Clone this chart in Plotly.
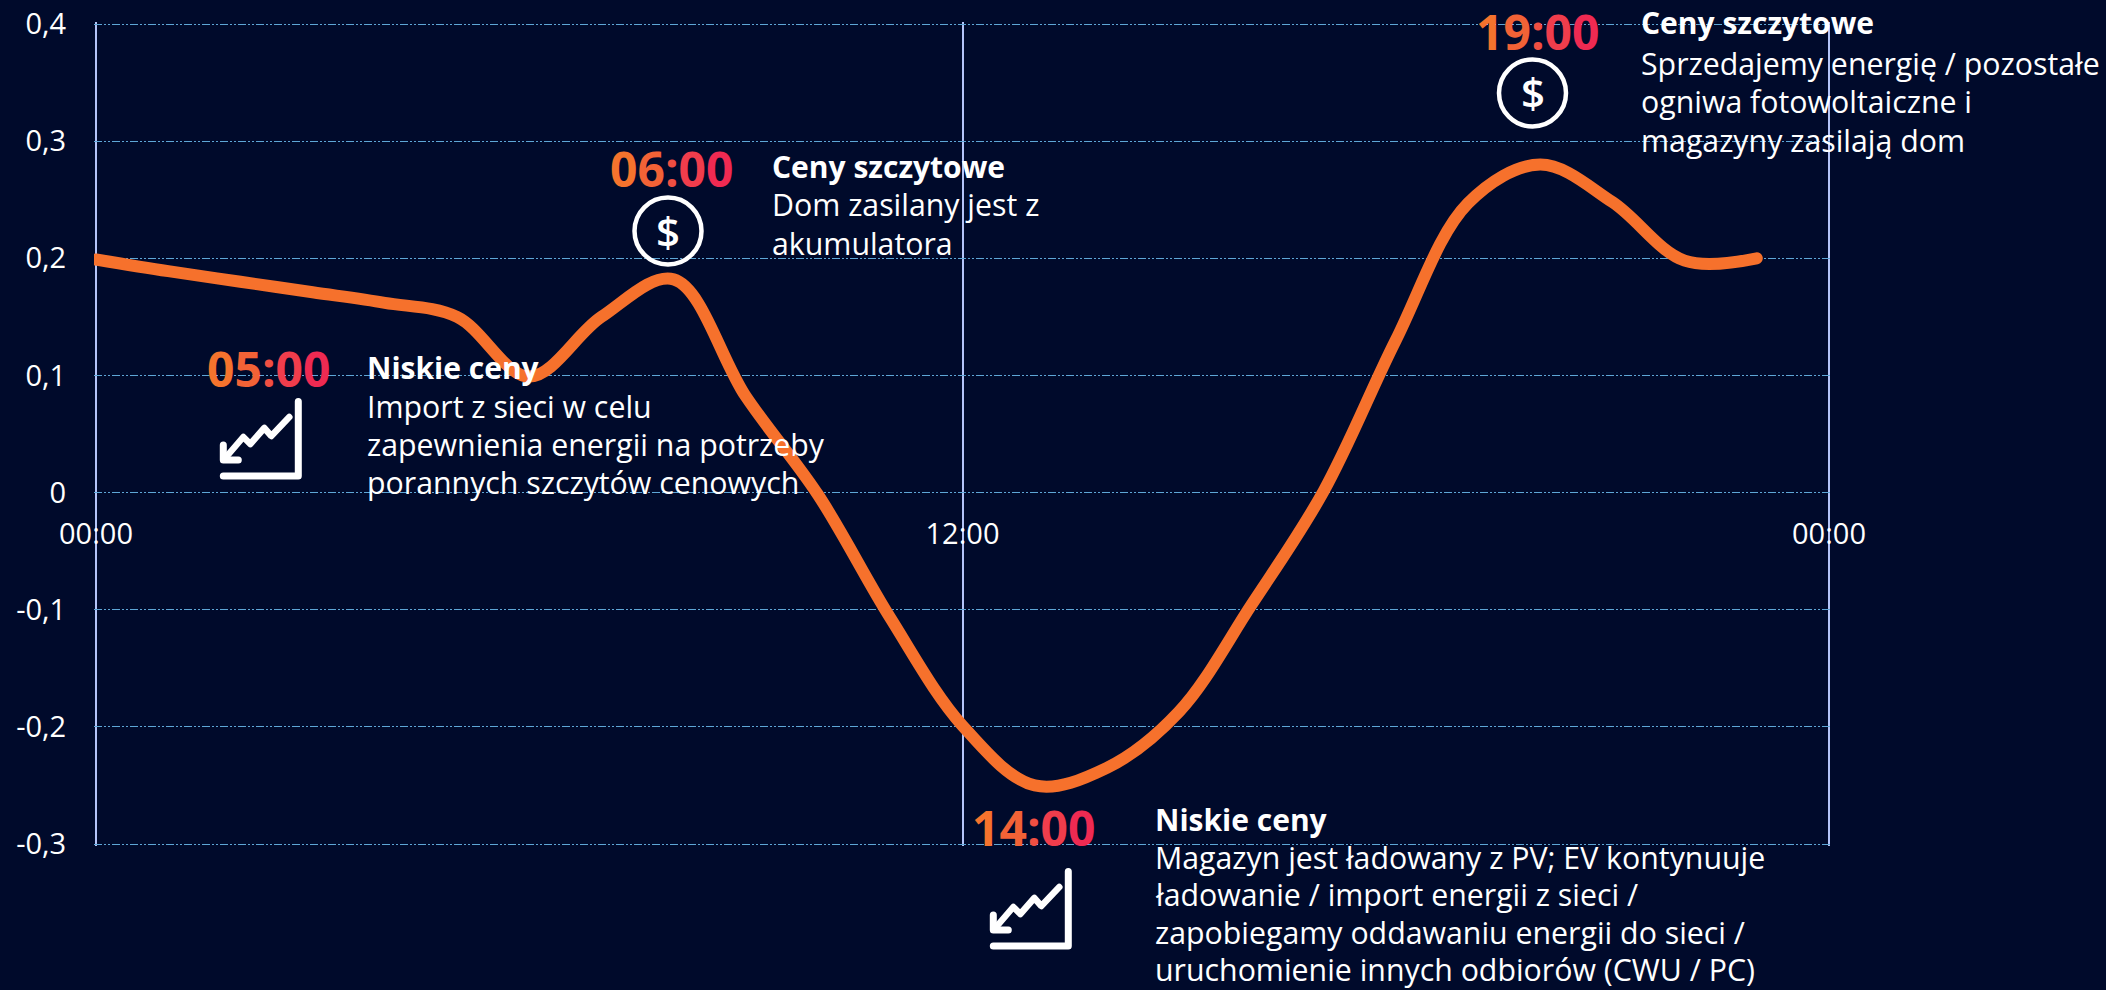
import plotly.graph_objects as go

hours = list(range(24))
prices = [0.199, 0.189, 0.180, 0.171, 0.162, 0.150, 0.099, 0.150, 0.182, 0.082, -0.002,
          -0.107, -0.199, -0.250, -0.235, -0.187, -0.096, 0.001, 0.130, 0.247, 0.280,
          0.248, 0.198, 0.200]
x_tick_vals = [0, 12, 24]
x_tick_text = ["00:00", "12:00", "00:00"]
y_tick_vals = [0.4, 0.3, 0.2, 0.1, 0, -0.1, -0.2, -0.3]
y_tick_text = ["0,4", "0,3", "0,2", "0,1", "0", "-0,1", "-0,2", "-0,3"]

BG = "#000A2B"
FONT = "Open Sans"
# pixel frame of the value scale, plus a small pad so that the edge gridlines are kept
L, R, T, B = 96, 1829, 24, 844
PAD = 2
PL, PR, PT, PB = L - PAD, R + PAD, T - PAD, B + PAD
X_MAX = 24
Y_MIN, Y_MAX = -0.3, 0.4
x_per_px = X_MAX / (R - L)
y_per_px = (Y_MAX - Y_MIN) / (B - T)
x_range = [-PAD * x_per_px, X_MAX + PAD * x_per_px]
y_range = [Y_MIN - PAD * y_per_px, Y_MAX + PAD * y_per_px]


def fx(px):
    return (px - PL) / (PR - PL)


def fy(py):
    return (PB - py) / (PB - PT)


fig = go.Figure()
fig.add_trace(go.Scatter(x=hours, y=prices, mode="lines", cliponaxis=True,
                         line=dict(color="#F6712C", width=12, shape="spline", smoothing=1),
                         hoverinfo="skip", showlegend=False))

annotations = []


def text(px, py, s, size=30.3, weight=400, anchor="left"):
    annotations.append(dict(x=fx(px), y=fy(py), xref="paper", yref="paper", text=s, showarrow=False,
                            xanchor=anchor, yanchor="middle", borderpad=0, borderwidth=0,
                            font=dict(family=FONT, size=size, color="white", weight=weight)))


GRAD = ["#F5732D", "#F26236", "#F04F42", "#F03D4C", "#EF2A52"]


def time_label(px, py, s):
    spans = "".join(f'<span style="color:{c}">{ch}</span>' for ch, c in zip(s, GRAD))
    text(px, py, spans, size=48, weight=700, anchor="center")


def block(px, ys, title, lines):
    text(px, ys[0], title, size=30, weight=700)
    for y, line in zip(ys[1:], lines):
        text(px, y, line)


time_label(269, 368, "05:00")
block(367, [367, 406, 444, 482], "Niskie ceny",
      ["Import z sieci w celu", "zapewnienia energii na potrzeby", "porannych szczytów cenowych"])
time_label(672, 168, "06:00")
block(772, [166, 204, 243], "Ceny szczytowe", ["Dom zasilany jest z", "akumulatora"])
time_label(1538, 31, "19:00")
block(1641, [22, 63, 102, 140], "Ceny szczytowe",
      ["Sprzedajemy energię / pozostałe", "ogniwa fotowoltaiczne i", "magazyny zasilają dom"])
time_label(1034, 827, "14:00")
block(1155, [819, 857, 895, 932, 969], "Niskie ceny",
      ["Magazyn jest ładowany z PV; EV kontynuuje", "ładowanie / import energii z sieci /",
       "zapobiegamy oddawaniu energii do sieci /", "uruchomienie innych odbiorów (CWU / PC)"])

shapes = []
for cx, cy in [(668, 231), (1532.5, 93)]:
    shapes.append(dict(type="circle", xsizemode="pixel", ysizemode="pixel",
                       xanchor=fx(cx), yanchor=fy(cy), xref="paper", yref="paper",
                       x0=-33.5, x1=33.5, y0=-33.5, y1=33.5,
                       line=dict(color="white", width=4.5), fillcolor="rgba(0,0,0,0)"))
    text(cx, cy - 1, "$", size=42, weight=600, anchor="center")

frame = "M -75 0 L 0 0 L 0 74.5"
zigzag = "M -9 59 L -27 40 L -34 48 L -48 32 L -55 39 L -73 18"
head = "M -75 31 L -75 16 L -60 16"
for ax, ay in [(298.3, 476), (1068.3, 946)]:
    for path, w in [(frame, 7), (zigzag, 6.5), (head, 7)]:
        shapes.append(dict(type="path", path=path, xsizemode="pixel", ysizemode="pixel",
                           xanchor=fx(ax), yanchor=fy(ay), xref="paper", yref="paper",
                           line=dict(color="white", width=w), fillcolor="rgba(0,0,0,0)"))

grid_dash = "8px,2px,2px,2px,2px,2px"
fig.update_layout(
    width=2106, height=990, paper_bgcolor=BG, plot_bgcolor=BG,
    margin=dict(l=PL, r=2106 - PR, t=PT, b=990 - PB),
    showlegend=False, annotations=annotations, shapes=shapes,
    font=dict(family=FONT, size=29, color="white"),
    xaxis=dict(range=x_range, tickmode="array", tickvals=x_tick_vals, ticktext=x_tick_text,
               anchor="free", position=fy(T + (Y_MAX - 0) / y_per_px), automargin=False,
               showline=False, zeroline=False,
               showgrid=True, gridcolor="#B4C4F8", gridwidth=1.5, griddash="solid",
               ticks="outside", ticklen=16, tickcolor="rgba(0,0,0,0)",
               tickfont=dict(family=FONT, size=29, color="white")),
    yaxis=dict(range=y_range, tickmode="array", tickvals=y_tick_vals, ticktext=y_tick_text,
               automargin=False, showline=False, zeroline=False, showgrid=True,
               gridcolor="#5EA6D6", gridwidth=1, griddash=grid_dash,
               ticks="outside", ticklen=21, tickcolor="rgba(0,0,0,0)",
               tickfont=dict(family=FONT, size=29, color="white")),
)
fig.write_html("out.html", config=dict(displayModeBar=False),
               post_script="document.body.style.margin='0';"
                           "document.querySelectorAll('.js-line, .shapelayer path')"
                           ".forEach(function(p){p.style.strokeLinecap='round';"
                           "p.style.strokeLinejoin='round';});")
